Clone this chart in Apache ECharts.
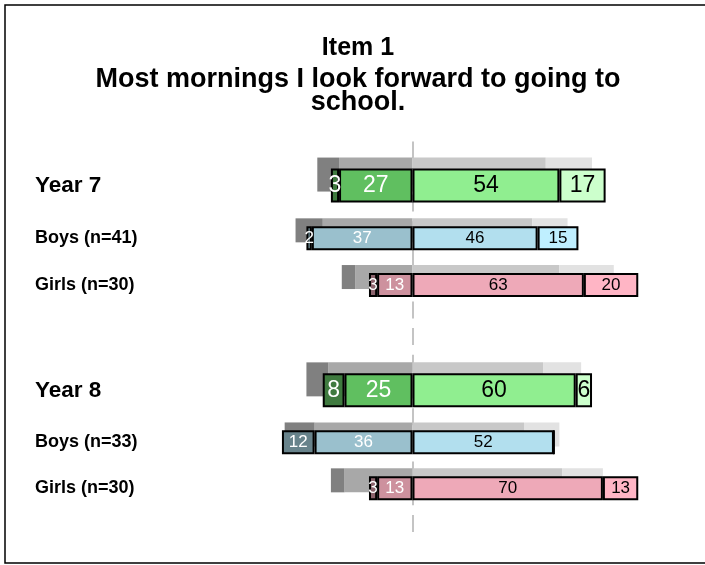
<!DOCTYPE html>
<html><head><meta charset="utf-8">
<script src="https://cdn.jsdelivr.net/npm/echarts@6/dist/echarts.min.js"></script>
<style>html,body{margin:0;padding:0;background:#fff}#c{width:705px;height:565px}</style>
</head><body><div id="c"></div>
<script>
// ---- data ----
const rowLabels = ['Year 7', 'Boys (n=41)', 'Girls (n=30)', 'Year 8', 'Boys (n=33)', 'Girls (n=30)'];
const rowGroup = ['total', 'boys', 'girls', 'total', 'boys', 'girls'];
const stronglyDisagree = [3, 2, 3, 8, 12, 3];
const disagree = [27, 37, 13, 25, 36, 13];
const agree = [54, 46, 63, 60, 52, 70];
const stronglyAgree = [17, 15, 20, 6, 0, 13];
// comparison (grey shadow bars)
const cmpStronglyDisagree = [8, 10, 5, 8, 11, 5];
const cmpDisagree = [27, 33, 21, 31, 36, 25];
const cmpAgree = [49, 44, 54, 48, 41, 55];
const cmpStronglyAgree = [17, 13, 20, 14, 13, 15];
const titleText = 'Item 1';
const subtitleText = 'Most mornings I look forward to going to\nschool.';

// ---- styles ----
const FONT = '"Liberation Sans", Arial, sans-serif';
const palettes = {
  total: ['#3f7a3f', '#60bf60', '#90ee90', '#ccffcc'],
  boys:  ['#68838b', '#9ac0cd', '#b2dfee', '#bfefff'],
  girls: ['#8b636c', '#cd919e', '#eea9b8', '#ffb5c5']
};
const greys = ['#808080', '#a8a8a8', '#c8c8c8', '#e2e2e2'];
const rowCenters = [180, 234.3, 281, 384.8, 438.4, 484.3];
const GL = 140.5, GW = 544;

const grids = [], xAxes = [], yAxes = [], series = [];
// overlay grid for the dashed centre line
grids.push({left: GL, width: GW, top: 141.5, height: 390.5});
xAxes.push({gridIndex: 0, type: 'value', min: -100, max: 100, show: false});
yAxes.push({gridIndex: 0, type: 'value', min: 0, max: 1, show: false});
series.push({
  type: 'line', xAxisIndex: 0, yAxisIndex: 0, data: [], silent: true, z: 1,
  markLine: {silent: true, z: 1, symbol: 'none', label: {show: false}, animation: false,
    lineStyle: {color: '#c4c4c4', width: 2, type: [17, 9.7]}, data: [{xAxis: 0}]}
});

const lab = v => (v === 0 ? '' : String(Math.abs(v)));

rowLabels.forEach((name, i) => {
  const gi = i + 1;
  const total = rowGroup[i] === 'total';
  grids.push({left: GL, width: GW, top: rowCenters[i] - 25, height: 50});
  xAxes.push({gridIndex: gi, type: 'value', min: -100, max: 100, show: false});
  yAxes.push({
    gridIndex: gi, type: 'category', data: [name],
    axisLine: {show: false}, axisTick: {show: false}, splitLine: {show: false},
    axisLabel: {align: 'left', margin: GL - 35, color: '#000', fontFamily: FONT,
      fontWeight: 'bold', fontSize: total ? 22.5 : 18,
      verticalAlign: 'top', lineHeight: total ? 12 : 8}
  });
  const bw = total ? 34 : 24;
  const gap = total ? '-68%' : '-67%';
  const fs = total ? 23 : 17;
  const pal = palettes[rowGroup[i]];
  const shadow = [
    [-cmpDisagree[i], greys[1]], [-cmpStronglyDisagree[i], greys[0]],
    [cmpAgree[i], greys[2]], [cmpStronglyAgree[i], greys[3]]
  ];
  shadow.forEach(([v, col]) => {
    series.push({type: 'bar', xAxisIndex: gi, yAxisIndex: gi, stack: 'cmp' + i, data: [v],
      barWidth: bw, barGap: gap, silent: true, itemStyle: {color: col}, label: {show: false}});
  });
  const main = [
    [-disagree[i], pal[1], '#fff'], [-stronglyDisagree[i], pal[0], '#fff'],
    [agree[i], pal[2], '#000'], [stronglyAgree[i], pal[3], '#000']
  ];
  main.forEach(([v, col, tc]) => {
    series.push({type: 'bar', xAxisIndex: gi, yAxisIndex: gi, stack: 'main' + i, data: [v],
      barWidth: bw, barGap: gap, silent: true,
      itemStyle: {color: col, borderColor: '#000', borderWidth: 2},
      label: {show: v !== 0, position: 'inside', formatter: p => lab(p.value),
        color: tc, fontSize: fs, fontFamily: FONT}});
  });
});

const chart = echarts.init(document.getElementById('c'), null, {renderer: 'canvas'});
chart.setOption({
  animation: false,
  backgroundColor: '#fff',
  title: [
    {text: titleText, left: 358, top: 36, textAlign: 'center', padding: 0,
      textStyle: {fontSize: 25, fontWeight: 'bold', color: '#000', fontFamily: FONT}},
    {text: subtitleText, left: 358, top: 68, textAlign: 'center', padding: 0,
      textStyle: {fontSize: 27, fontWeight: 'bold', color: '#000', fontFamily: FONT, lineHeight: 23}}
  ],
  graphic: [{type: 'rect', silent: true, z: -1,
    shape: {x: 5, y: 5, width: 720, height: 558},
    style: {fill: 'none', stroke: '#000', lineWidth: 1.5}}],
  grid: grids, xAxis: xAxes, yAxis: yAxes, series: series
});
</script></body></html>
